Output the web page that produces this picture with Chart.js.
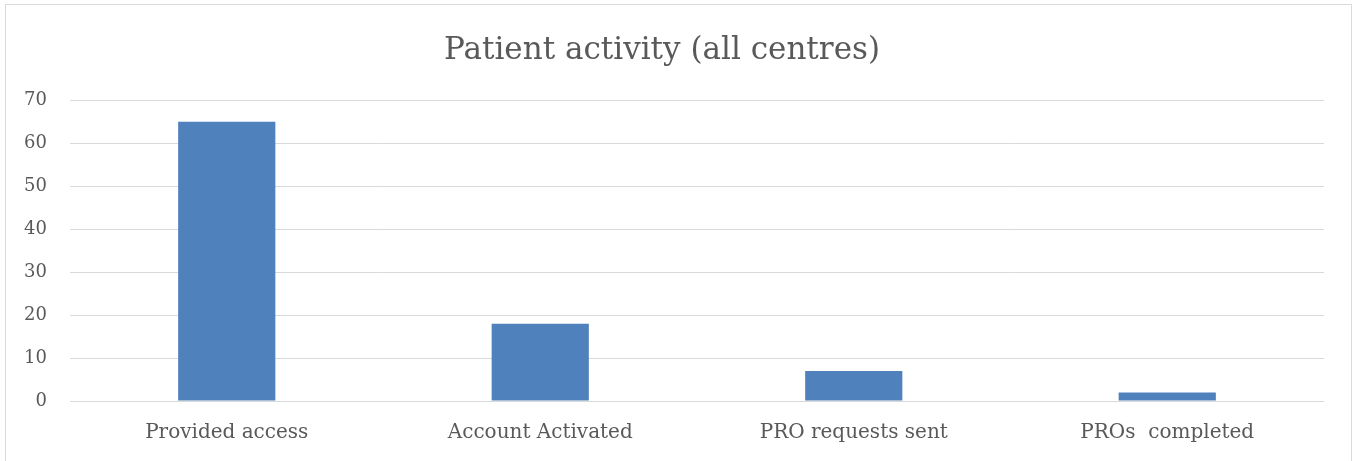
<!DOCTYPE html>
<html>
<head>
<meta charset="utf-8">
<script src="https://cdn.jsdelivr.net/npm/chart.js@4/dist/chart.umd.min.js"></script>
<style>
  html, body { margin: 0; padding: 0; background: #fff; }
  #wrap { position: relative; width: 1357px; height: 461px; overflow: hidden; }
  #frame { position: absolute; left: 5px; top: 4px; width: 1347px; height: 480px; border: 1px solid #d9d9d9; box-sizing: border-box; }
  canvas { position: absolute; left: 0; top: 0; }
</style>
</head>
<body>
<div id="wrap">
  <div id="frame"></div>
  <canvas id="c" width="1357" height="461"></canvas>
</div>
<script>
const categories = ["Provided access", "Account Activated", "PRO requests sent", "PROs  completed"];
const values = [65, 18, 7, 2];
const yTicks = [0, 10, 20, 30, 40, 50, 60, 70];

const FONT = "'DejaVu Serif', 'Liberation Serif', serif";
const TEXT = "#595959";

new Chart(document.getElementById('c'), {
  type: 'bar',
  data: {
    labels: categories,
    datasets: [{
      data: values,
      backgroundColor: '#4f81bd',
      borderWidth: 0,
      barPercentage: 0.31,
      categoryPercentage: 1.0
    }]
  },
  options: {
    responsive: false,
    animation: false,
    layout: { padding: { left: 0, right: 33, top: 0, bottom: 0 } },
    plugins: {
      legend: { display: false },
      tooltip: { enabled: false },
      title: {
        display: true,
        text: 'Patient activity (all centres)',
        color: TEXT,
        font: { family: FONT, size: 31, weight: 'normal' },
        padding: { top: 32, bottom: 31 }
      }
    },
    scales: {
      x: {
        afterFit: (s) => { s.height = 60; },
        grid: { display: false, drawTicks: false },
        border: { display: false },
        ticks: { color: TEXT, font: { family: FONT, size: 20 }, padding: 20, maxRotation: 0 }
      },
      y: {
        min: 0, max: 70,
        afterBuildTicks: (s) => { s.ticks = yTicks.map(v => ({ value: v })); },
        afterFit: (s) => { s.width = 70; },
        grid: { color: '#d9d9d9', lineWidth: 1, drawTicks: false },
        border: { display: false },
        ticks: { color: TEXT, font: { family: FONT, size: 18 }, padding: 23 }
      }
    }
  }
});
</script>
</body>
</html>
